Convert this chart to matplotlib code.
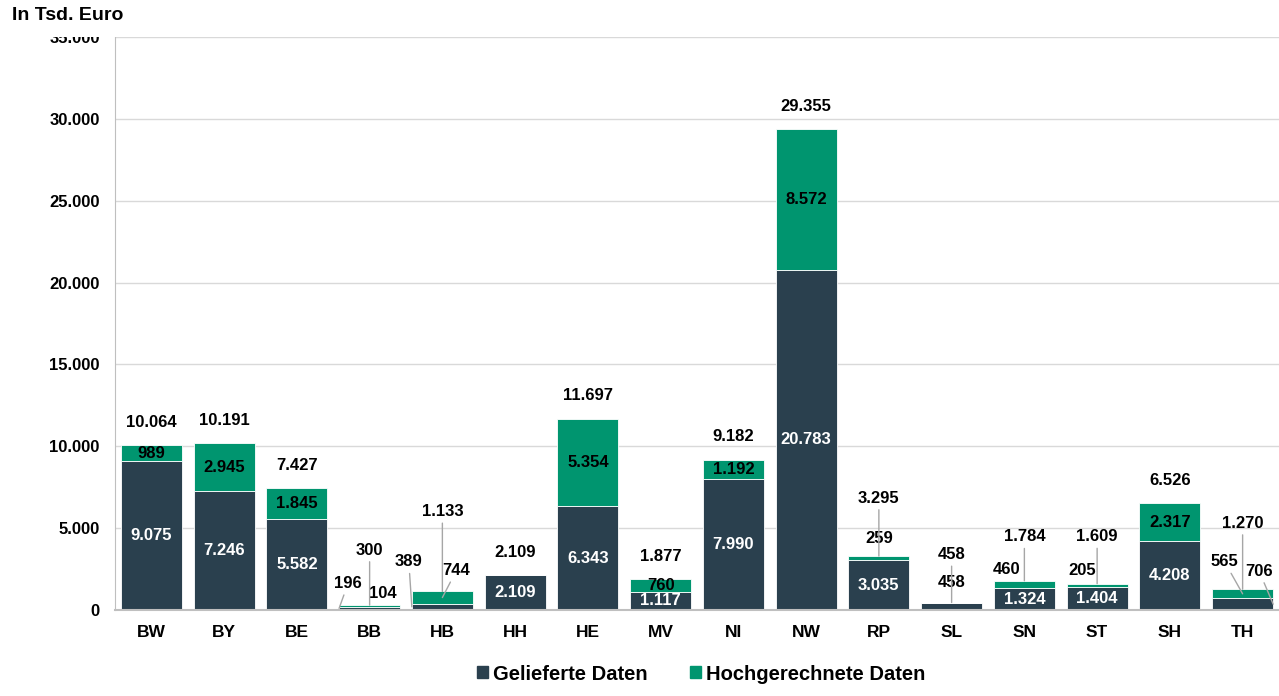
import matplotlib
matplotlib.use("Agg")
import matplotlib.pyplot as plt
from matplotlib.patches import Patch, Rectangle

plt.rcParams['font.family'] = ['Liberation Sans', 'DejaVu Sans']
plt.rcParams['font.weight'] = 'bold'

# Daten (in Tsd. Euro)
laender = ["BW", "BY", "BE", "BB", "HB", "HH", "HE", "MV", "NI", "NW", "RP", "SL", "SN", "ST", "SH", "TH"]
geliefert = [9075, 7246, 5582, 196, 389, 2109, 6343, 1117, 7990, 20783, 3035, 458, 1324, 1404, 4208, 706]
hochgerechnet = [989, 2945, 1845, 104, 744, 0, 5354, 760, 1192, 8572, 259, 0, 460, 205, 2317, 565]
summe = [10064, 10191, 7427, 300, 1133, 2109, 11697, 1877, 9182, 29355, 3295, 458, 1784, 1609, 6526, 1270]
yticks = [0, 5000, 10000, 15000, 20000, 25000, 30000, 35000]

DUNKEL = "#2A404E"
GRUEN = "#00956F"
LINIE = "#A6A6A6"

def fmt(v):
    return f"{v:,}".replace(",", ".")

fig = plt.figure(figsize=(12.79, 6.96), dpi=100)
ax = fig.add_axes([115/1279, 1-610/696, 1-115/1279, (610-37)/696])

x = list(range(len(laender)))
b = 0.84
ax.bar(x, geliefert, width=b, color=DUNKEL, edgecolor="white", linewidth=0.6, zorder=2)
ax.bar(x, hochgerechnet, width=b, bottom=geliefert, color=GRUEN, edgecolor="white", linewidth=0.6, zorder=2)

ax.set_xlim(-0.5, len(laender)-0.5)
ax.set_ylim(0, 35000)
ax.set_yticks(yticks)
ax.set_yticklabels([fmt(t) for t in yticks], fontsize=12, fontweight='bold')
ax.set_xticks(x)
ax.set_xticklabels(laender, fontsize=12.5, fontweight='bold')
ax.tick_params(axis='y', length=0, pad=11)
ax.tick_params(axis='x', length=0, pad=11)
ax.grid(axis='y', color="#D9D9D9", lw=1, zorder=0)
for s in ["top", "right"]:
    ax.spines[s].set_visible(False)
ax.spines["left"].set_color("#BFBFBF")
ax.spines["bottom"].set_color("#BFBFBF")
ax.spines["bottom"].set_linewidth(1.5)

# Beschriftungen mit Fuehrungslinien: (Land, Art) -> (x-Anker, Offset in Pixel, Linie)
callouts = {
    ("BB", "sum"): (0, (0, 55), True),
    ("BB", "dark"): (-0.42, (9, 25), True),
    ("BB", "green"): (0, (13, 12), False),
    ("HB", "sum"): (0, (0, 80), True),
    ("HB", "dark"): (-0.42, (-3, 45), True),
    ("HB", "green"): (0, (14, 27), True),
    ("RP", "sum"): (0, (0, 58), True),
    ("RP", "green"): (0, (0, 20), False),
    ("SL", "sum"): (0, (0, 48), True),
    ("SL", "dark"): (0, (0, 24), False),
    ("SN", "sum"): (0, (0, 44), True),
    ("SN", "green"): (0, (-18, 15), False),
    ("ST", "sum"): (0, (0, 47), True),
    ("ST", "green"): (0, (-15, 15), False),
    ("TH", "sum"): (0, (0, 66), True),
    ("TH", "green"): (0, (-18, 32), True),
    ("TH", "dark"): (0.42, (-14, 33), True),
}

def label(i, art, y, text, color):
    key = (laender[i], art)
    if key in callouts:
        dx, off, linie = callouts[key]
        ap = dict(arrowstyle='-', color=LINIE, lw=1, shrinkA=1, shrinkB=0) if linie else None
        ax.annotate(text, (i+dx, y), xytext=off, textcoords='offset pixels',
                    ha='center', va='center', fontsize=12, fontweight='bold',
                    color='black', arrowprops=ap, zorder=4)
    else:
        ax.annotate(text, (i, y), ha='center', va='center', fontsize=12,
                    fontweight='bold', color=color, zorder=4)

for i in x:
    g, h, s = geliefert[i], hochgerechnet[i], summe[i]
    label(i, "dark", g/2, fmt(g), "white")
    if h > 0:
        label(i, "green", g + h/2, fmt(h), "black")
    key = (laender[i], "sum")
    if key in callouts:
        label(i, "sum", g + h, fmt(s), "black")
    else:
        ax.annotate(fmt(s), (i, g+h), xytext=(0, 23), textcoords='offset pixels',
                    ha='center', va='center', fontsize=12, fontweight='bold', zorder=4)

# weisser Kasten oben links (Titelbereich)
fig.patches.append(Rectangle((0, 1-37/696), 173/1279, 37/696, transform=fig.transFigure,
                             facecolor='white', edgecolor='none', zorder=10))
fig.text(12/1279, 1-15/696, "In Tsd. Euro", fontsize=14, fontweight='bold',
         ha='left', va='center', zorder=11)

handles = [Patch(color=DUNKEL, label="Gelieferte Daten"),
           Patch(color=GRUEN, label="Hochgerechnete Daten")]
fig.legend(handles=handles, loc='center', bbox_to_anchor=(701/1279, 1-674/696), ncol=2,
           frameon=False, prop={'size': 14.5, 'weight': 'bold'}, handlelength=0.55,
           handleheight=0.55, handletextpad=0.25, columnspacing=2.1)

fig.savefig("out.png", dpi=100)
